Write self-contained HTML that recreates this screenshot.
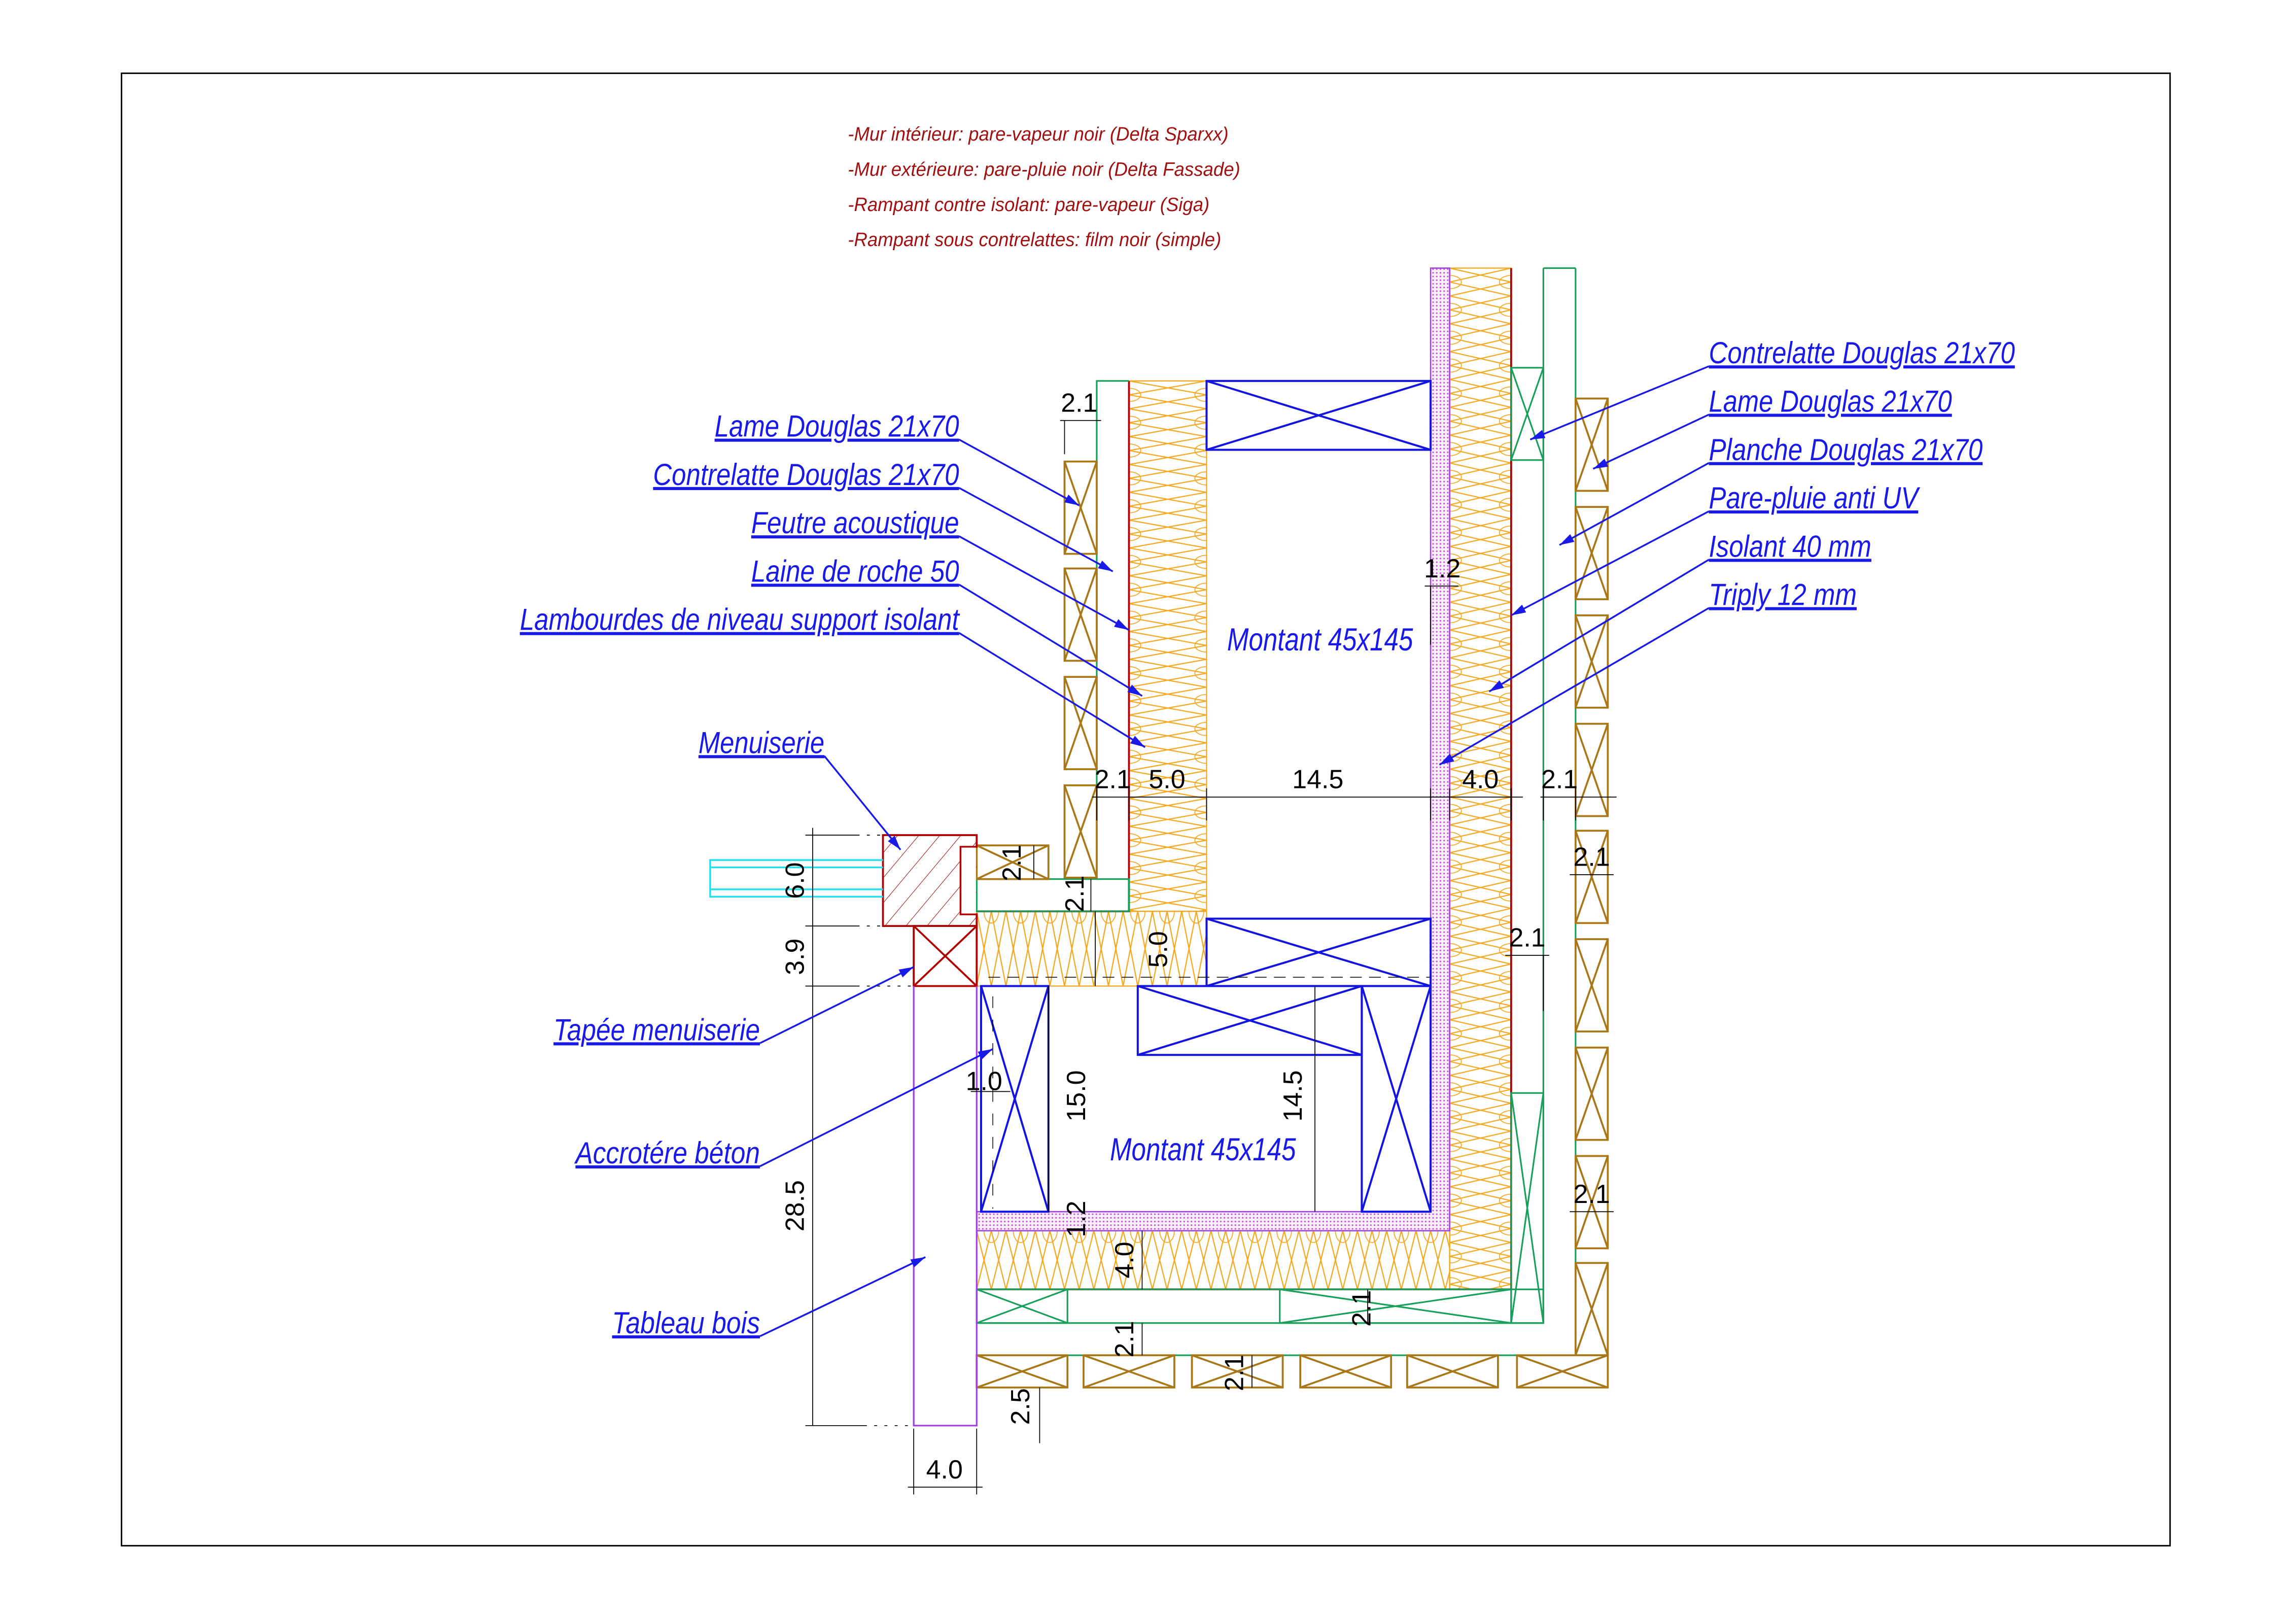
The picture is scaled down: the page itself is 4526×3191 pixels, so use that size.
<!DOCTYPE html>
<html><head><meta charset="utf-8"><style>
html,body{margin:0;padding:0;background:#fff;}
svg{display:block}
.lb{font-family:"Liberation Sans",sans-serif;font-style:italic;font-size:21px;fill:#1a1ae6;text-decoration:underline}
.nt{font-family:"Liberation Sans",sans-serif;font-style:italic;font-size:13px;fill:#a01010}
.dm{font-family:"Liberation Sans",sans-serif;font-size:18px;fill:#000}
.mt{font-family:"Liberation Sans",sans-serif;font-style:italic;font-size:22px;fill:#1a1ae6}
</style></head><body>
<svg width="4526" height="3191" viewBox="0 0 1568 1105" preserveAspectRatio="none" xmlns="http://www.w3.org/2000/svg">
<defs>
<pattern id="iv1" patternUnits="userSpaceOnUse" x="771" y="260" width="53" height="19">
<path d="M0,0 L53,9.5 L0,19 M53,0 L0,9.5 L53,19" stroke="#f4a820" stroke-width="0.8" fill="none"/>
<path d="M0,5 A8,4.5 0 0 1 0,14 M53,5 A8,4.5 0 0 0 53,14" stroke="#f4a820" stroke-width="0.6" fill="none"/>
</pattern>
<pattern id="iv2" patternUnits="userSpaceOnUse" x="990" y="183" width="42" height="19">
<path d="M0,0 L42,9.5 L0,19 M42,0 L0,9.5 L42,19" stroke="#f4a820" stroke-width="0.8" fill="none"/>
<path d="M0,5 A8,4.5 0 0 1 0,14 M42,5 A8,4.5 0 0 0 42,14" stroke="#f4a820" stroke-width="0.6" fill="none"/>
</pattern>
<pattern id="ih1" patternUnits="userSpaceOnUse" x="667" y="622" width="20" height="51">
<path d="M0,0 L10,51 L20,0 M0,51 L10,0 L20,51" stroke="#f4a820" stroke-width="0.8" fill="none"/>
<path d="M5,0 A5,8 0 0 0 15,0" stroke="#f4a820" stroke-width="0.6" fill="none"/>
</pattern>
<pattern id="ih2" patternUnits="userSpaceOnUse" x="667" y="840" width="20" height="40">
<path d="M0,0 L10,40 L20,0 M0,40 L10,0 L20,40" stroke="#f4a820" stroke-width="0.8" fill="none"/>
<path d="M5,0 A5,8 0 0 0 15,0" stroke="#f4a820" stroke-width="0.6" fill="none"/>
</pattern>
<pattern id="dot" patternUnits="userSpaceOnUse" width="2.5" height="2.5">
<rect width="2.5" height="2.5" fill="#fbeefb"/><circle cx="1.2" cy="1.2" r="0.55" fill="#c050d0"/>
</pattern>
<pattern id="hat" patternUnits="userSpaceOnUse" width="11" height="11" patternTransform="rotate(40)">
<line x1="0" y1="0" x2="0" y2="11" stroke="#a01010" stroke-width="0.7"/>
</pattern>
<marker id="ar" markerWidth="10" markerHeight="6" refX="10" refY="3" orient="auto" markerUnits="userSpaceOnUse">
<path d="M0,0 L10,3 L0,6 z" fill="#1a1ae6"/></marker>
</defs>

<rect x="83" y="50" width="1399" height="1005" fill="none" stroke="#000" stroke-width="1"/>

<text class="nt" x="579" y="96" textLength="260" lengthAdjust="spacingAndGlyphs">-Mur intérieur: pare-vapeur noir (Delta Sparxx)</text>
<text class="nt" x="579" y="120" textLength="268" lengthAdjust="spacingAndGlyphs">-Mur extérieure: pare-pluie noir (Delta Fassade)</text>
<text class="nt" x="579" y="144" textLength="247" lengthAdjust="spacingAndGlyphs">-Rampant contre isolant: pare-vapeur (Siga)</text>
<text class="nt" x="579" y="168" textLength="255" lengthAdjust="spacingAndGlyphs">-Rampant sous contrelattes: film noir (simple)</text>

<rect x="771" y="260" width="53" height="362" fill="url(#iv1)" stroke="#f4a820" stroke-width="0.8"/>
<rect x="667" y="622" width="157" height="51" fill="url(#ih1)" stroke="#f4a820" stroke-width="0.8"/>
<rect x="990" y="183" width="42" height="697" fill="url(#iv2)" stroke="#f4a820" stroke-width="0.8"/>
<rect x="667" y="840" width="323" height="40" fill="url(#ih2)" stroke="#f4a820" stroke-width="0.8"/>

<path d="M977,183 L990,183 L990,840 L667,840 L667,827 L977,827 Z" fill="url(#dot)" stroke="#a040e0" stroke-width="0.9"/>

<g stroke="#b00000" stroke-width="1.3" fill="none">
<path d="M771,260 L771,622 L667,622"/>
<path d="M1032,183 L1032,880 L667,880"/>
</g>

<g stroke="#17a05a" stroke-width="1.1" fill="none">
<path d="M749,315 L749,260 L771,260"/>
<line x1="749" y1="378" x2="749" y2="600"/>
<rect x="667" y="600" width="104" height="22"/>
<rect x="1032" y="251" width="22" height="63"/><path d="M1032,251 L1054,314 M1054,251 L1032,314"/>
<path d="M1054,183 L1076,183 M1054,183 L1054,903 M1076,183 L1076,925 L667,925"/>
<rect x="1032" y="746" width="22" height="157"/><path d="M1032,746 L1054,903 M1054,746 L1032,903"/>
<rect x="667" y="880" width="387" height="23"/>
<rect x="667" y="880" width="62" height="23"/><path d="M667,880 L729,903 M729,880 L667,903"/>
<rect x="874" y="880" width="158" height="23"/><path d="M874,880 L1032,903 M1032,880 L874,903"/>
</g>

<g stroke="#a87818" stroke-width="1.3" fill="#fff">
<rect x="727" y="315" width="22" height="63"/><path d="M727,315 L749,378 M749,315 L727,378"/>
<rect x="727" y="388" width="22" height="63"/><path d="M727,388 L749,451 M749,388 L727,451"/>
<rect x="727" y="462" width="22" height="63"/><path d="M727,462 L749,525 M749,462 L727,525"/>
<rect x="727" y="536" width="22" height="63"/><path d="M727,536 L749,599 M749,536 L727,599"/>
<rect x="667" y="577" width="49" height="23"/><path d="M667,577 L716,600 M716,577 L667,600"/>
<rect x="1076" y="272" width="22" height="63"/><path d="M1076,272 L1098,335 M1098,272 L1076,335"/>
<rect x="1076" y="346" width="22" height="63"/><path d="M1076,346 L1098,409 M1098,346 L1076,409"/>
<rect x="1076" y="420" width="22" height="63"/><path d="M1076,420 L1098,483 M1098,420 L1076,483"/>
<rect x="1076" y="494" width="22" height="63"/><path d="M1076,494 L1098,557 M1098,494 L1076,557"/>
<rect x="1076" y="567" width="22" height="63"/><path d="M1076,567 L1098,630 M1098,567 L1076,630"/>
<rect x="1076" y="641" width="22" height="63"/><path d="M1076,641 L1098,704 M1098,641 L1076,704"/>
<rect x="1076" y="715" width="22" height="63"/><path d="M1076,715 L1098,778 M1098,715 L1076,778"/>
<rect x="1076" y="789" width="22" height="63"/><path d="M1076,789 L1098,852 M1098,789 L1076,852"/>
<rect x="1076" y="862" width="22" height="63"/><path d="M1076,862 L1098,925 M1098,862 L1076,925"/>
<rect x="667" y="925" width="62" height="22"/><path d="M667,925 L729,947 M729,925 L667,947"/>
<rect x="740" y="925" width="62" height="22"/><path d="M740,925 L802,947 M802,925 L740,947"/>
<rect x="814" y="925" width="62" height="22"/><path d="M814,925 L876,947 M876,925 L814,947"/>
<rect x="888" y="925" width="62" height="22"/><path d="M888,925 L950,947 M950,925 L888,947"/>
<rect x="961" y="925" width="62" height="22"/><path d="M961,925 L1023,947 M1023,925 L961,947"/>
<rect x="1036" y="925" width="62" height="22"/><path d="M1036,925 L1098,947 M1098,925 L1036,947"/>
</g>

<g stroke="#1414e0" stroke-width="1.4" fill="none">
<rect x="824" y="260" width="153" height="47"/><path d="M824,260 L977,307 M977,260 L824,307"/>
<rect x="824" y="627" width="153" height="46"/><path d="M824,627 L977,673 M977,627 L824,673"/>
<rect x="777" y="673" width="153" height="47"/><path d="M777,673 L930,720 M930,673 L777,720"/>
<rect x="930" y="673" width="47" height="154"/><path d="M930,673 L977,827 M977,673 L930,827"/>
<rect x="670" y="673" width="46" height="154"/><path d="M670,673 L716,827 M716,673 L670,827"/>
</g>
<line x1="675" y1="667" x2="977" y2="667" stroke="#000" stroke-width="0.5" stroke-dasharray="8,5"/>
<line x1="678" y1="680" x2="678" y2="825" stroke="#000" stroke-width="0.5" stroke-dasharray="8,8"/>

<rect x="603" y="570" width="64" height="62" fill="url(#hat)"/>
<path d="M603,570 L667,570 L667,578 L656,578 L656,624 L667,624 L667,632 L603,632 Z" fill="none" stroke="#b00000" stroke-width="1.3"/>
<rect x="656.5" y="578.5" width="10" height="45" fill="#fff"/>
<rect x="624" y="632" width="43" height="41" fill="#fff" stroke="#b00000" stroke-width="1.3"/>
<path d="M624,632 L667,673 M667,632 L624,673" stroke="#b00000" stroke-width="1.3"/>
<g stroke="#20e0f0" stroke-width="1.2" fill="none">
<path d="M603,587 L485,587 L485,612 L603,612 M603,592 L485,592 M603,607 L485,607"/>
</g>
<path d="M624,673 L624,973 L667,973 L667,673" fill="none" stroke="#a040e0" stroke-width="1.1"/>

<g stroke="#000" stroke-width="0.6" fill="none">
<path d="M746,544 L1040,544 M1052,544 L1104,544"/>
<path d="M749,538 L749,560 M771,538 L771,560 M824,538 L824,560 M977,538 L977,560 M990,538 L990,560 M1032,538 L1032,560 M1054,538 L1054,560 M1076,538 L1076,560"/>
<path d="M724,287 L752,287 M727,287 L727,310"/>
<path d="M973,400 L996,400 M977,400 L977,440"/>
<path d="M1072,597 L1102,597 M1072,827 L1102,827 M1028,652 L1058,652 M1054,652 L1054,690"/>
<path d="M555,565 L555,973 M550,570 L585,570 M550,632 L585,632 M550,673 L585,673 M550,973 L590,973"/>
<path d="M585,570 L603,570 M585,632 L603,632 M585,673 L624,673 M590,973 L624,973" stroke-dasharray="2,5"/>
<path d="M620,1015 L671,1015 M624,975 L624,1020 M667,975 L667,1020"/>
<path d="M716,673 L716,827 M898,673 L898,827 M748,622 L748,673 M780,840 L780,880 M780,903 L780,925 M934,880 L934,903 M855,925 L855,947 M710,947 L710,985 M706,577 L706,600 M745,600 L745,622 M663,745 L690,745"/>
</g>
<g class="dm">
<text x="760" y="538" text-anchor="middle">2.1</text>
<text x="797" y="538" text-anchor="middle">5.0</text>
<text x="900" y="538" text-anchor="middle">14.5</text>
<text x="1011" y="538" text-anchor="middle">4.0</text>
<text x="1065" y="538" text-anchor="middle">2.1</text>
<text x="737" y="281" text-anchor="middle">2.1</text>
<text x="985" y="394" text-anchor="middle">1.2</text>
<text x="1087" y="591" text-anchor="middle">2.1</text>
<text x="1043" y="646" text-anchor="middle">2.1</text>
<text x="1087" y="821" text-anchor="middle">2.1</text>
<text x="672" y="744" text-anchor="middle">1.0</text>
<text x="645" y="1009" text-anchor="middle">4.0</text>
<text transform="translate(549,601) rotate(-90)" text-anchor="middle">6.0</text>
<text transform="translate(549,653) rotate(-90)" text-anchor="middle">3.9</text>
<text transform="translate(549,823) rotate(-90)" text-anchor="middle">28.5</text>
<text transform="translate(697,589) rotate(-90)" text-anchor="middle">2.1</text>
<text transform="translate(740,610) rotate(-90)" text-anchor="middle">2.1</text>
<text transform="translate(797,648) rotate(-90)" text-anchor="middle">5.0</text>
<text transform="translate(741,748) rotate(-90)" text-anchor="middle">15.0</text>
<text transform="translate(889,748) rotate(-90)" text-anchor="middle">14.5</text>
<text transform="translate(741,832) rotate(-90)" text-anchor="middle">1.2</text>
<text transform="translate(774,860) rotate(-90)" text-anchor="middle">4.0</text>
<text transform="translate(936,893) rotate(-90)" text-anchor="middle">2.1</text>
<text transform="translate(774,914) rotate(-90)" text-anchor="middle">2.1</text>
<text transform="translate(849,937) rotate(-90)" text-anchor="middle">2.1</text>
<text transform="translate(703,960) rotate(-90)" text-anchor="middle">2.5</text>
</g>

<text class="mt" x="838" y="444" textLength="127" lengthAdjust="spacingAndGlyphs">Montant 45x145</text>
<text class="mt" x="758" y="792" textLength="127" lengthAdjust="spacingAndGlyphs">Montant 45x145</text>

<g class="lb">
<text x="488" y="298" textLength="167" lengthAdjust="spacingAndGlyphs">Lame Douglas 21x70</text>
<text x="446" y="331" textLength="209" lengthAdjust="spacingAndGlyphs">Contrelatte Douglas 21x70</text>
<text x="513" y="364" textLength="142" lengthAdjust="spacingAndGlyphs">Feutre acoustique</text>
<text x="513" y="397" textLength="142" lengthAdjust="spacingAndGlyphs">Laine de roche 50</text>
<text x="355" y="430" textLength="300" lengthAdjust="spacingAndGlyphs">Lambourdes de niveau support isolant</text>
<text x="477" y="514" textLength="86" lengthAdjust="spacingAndGlyphs">Menuiserie</text>
<text x="378" y="710" textLength="141" lengthAdjust="spacingAndGlyphs">Tapée menuiserie</text>
<text x="393" y="794" textLength="126" lengthAdjust="spacingAndGlyphs">Accrotére béton</text>
<text x="418" y="910" textLength="101" lengthAdjust="spacingAndGlyphs">Tableau bois</text>
<text x="1167" y="248" textLength="209" lengthAdjust="spacingAndGlyphs">Contrelatte Douglas 21x70</text>
<text x="1167" y="281" textLength="166" lengthAdjust="spacingAndGlyphs">Lame Douglas 21x70</text>
<text x="1167" y="314" textLength="187" lengthAdjust="spacingAndGlyphs">Planche Douglas 21x70</text>
<text x="1167" y="347" textLength="143" lengthAdjust="spacingAndGlyphs">Pare-pluie anti UV</text>
<text x="1167" y="380" textLength="111" lengthAdjust="spacingAndGlyphs">Isolant 40 mm</text>
<text x="1167" y="413" textLength="101" lengthAdjust="spacingAndGlyphs">Triply 12 mm</text>
</g>
<g stroke="#1a1ae6" stroke-width="1.2" fill="none" marker-end="url(#ar)">
<path d="M655,300 L737,345"/>
<path d="M655,333 L760,390"/>
<path d="M655,366 L771,430"/>
<path d="M655,399 L780,475"/>
<path d="M655,432 L782,510"/>
<path d="M563,516 L615,580"/>
<path d="M519,712 L624,660"/>
<path d="M519,796 L678,716"/>
<path d="M519,912 L632,858"/>
<path d="M1167,250 L1045,300"/>
<path d="M1167,283 L1088,320"/>
<path d="M1167,316 L1065,372"/>
<path d="M1167,349 L1032,420"/>
<path d="M1167,382 L1017,472"/>
<path d="M1167,415 L983,522"/>
</g>
</svg>
</body></html>
